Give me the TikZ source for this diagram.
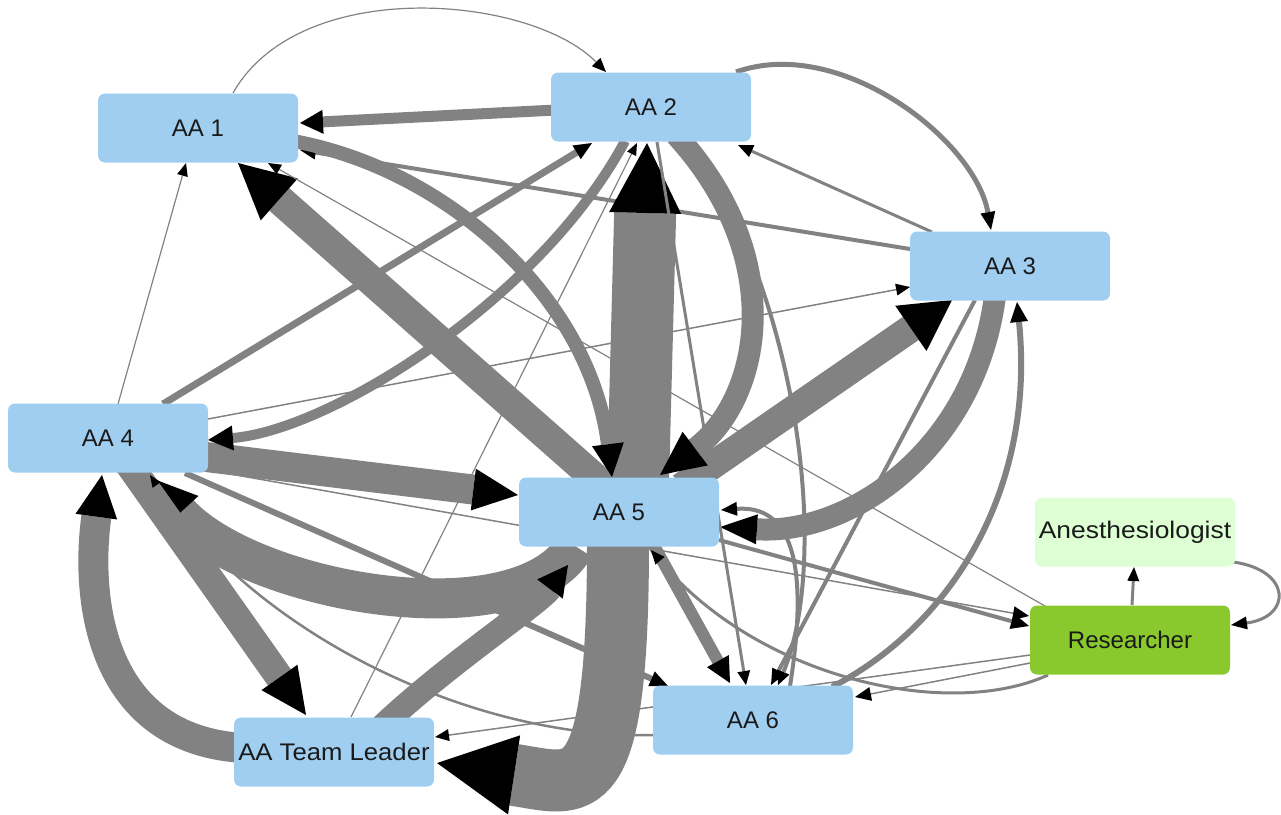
\documentclass[tikz,border=0pt]{standalone}
\usepackage{fontspec}
\setmainfont{Liberation Sans}
\usetikzlibrary{arrows.meta,calc}
\definecolor{boxblue}{HTML}{A0CEF1}
\definecolor{anest}{HTML}{DDFFD3}
\definecolor{resgreen}{HTML}{89C92D}
\definecolor{eg}{HTML}{828282}
\definecolor{txt}{HTML}{1A1A1A}
\pgfdeclarelayer{edges}
\pgfsetlayers{edges,main}
\tikzset{
  box/.style={rectangle, rounded corners=7pt, minimum width=200pt, minimum height=69pt,
    inner sep=0pt, fill=boxblue, text=txt, font=\fontsize{24}{28}\selectfont},
  ed/.style n args={3}{draw=eg, line width=#1pt,
    -{Triangle[length=#2pt, width=#3pt, line width=0pt, color=black]}},
}
\begin{document}
\begin{tikzpicture}[x=1pt, y=-1pt]
\useasboundingbox (0,0) rectangle (1281,814);
\node[box] (a1) at (198,128) {AA 1};
\node[box] (a2) at (651,107) {AA 2};
\node[box] (a3) at (1010,266) {AA 3};
\node[box] (a4) at (108,438) {AA 4};
\node[box] (a5) at (619,512) {AA 5};
\node[box] (a6) at (753,720) {AA 6};
\node[box] (tl) at (334,752) {\scalebox{1.07}[1]{AA Team Leader}};
\node[box, fill=anest] (an) at (1135,532) {\scalebox{1.1}[1]{Anesthesiologist}};
\node[box, fill=resgreen] (re) at (1130,640) {Researcher};
\begin{pgfonlayer}{edges}
% hidden-ish edges first
\draw[ed={4}{16}{14}] ($(a3)+(-100,-17)$) -- ($(a1)+(102,22)$);
% thick edges
\draw[ed={62}{70}{72}] ($(a5)+(19,-30)$) -- ($(a2)+(-4,36)$);
\draw[ed={62}{78}{80}] ($(a5)+(-1,30)$) .. controls +(0,268) and +(143,22) .. ($(tl)+(103,11)$);
\draw[ed={30}{55}{56}] ($(a5)+(-14,-25)$) -- ($(a1)+(40,35)$);
\draw[ed={40}{53}{53}] ($(a5)+(-44,34)$) .. controls +(-55,94) and +(110,119) .. ($(a4)+(35,37)$);
\draw[ed={30}{45}{42}] ($(a4)+(90,18)$) -- ($(a5)+(-101,-17)$);
\draw[ed={30}{42}{42}] ($(tl)+(-90,-4)$) .. controls +(-144,-8) and +(-17,125) .. ($(a4)+(-6,37)$);
\draw[ed={28}{46}{44}] ($(a4)+(20,25)$) -- ($(tl)+(-28,-37)$);
\draw[ed={28}{50}{55}] ($(a5)+(62,-25)$) -- ($(a3)+(-58,34)$);
\draw[ed={24}{30}{32}] ($(tl)+(42,-20)$) .. controls +(67,-65) and +(-30,40) .. ($(a5)+(-51,53)$);
\draw[ed={22}{44}{42}] ($(a2)+(25,28)$) .. controls +(114,125) and +(100,-75) .. ($(a5)+(41,-37)$);
\draw[ed={22}{37}{30}] ($(a3)+(-15,30)$) .. controls +(-20,154) and +(130,8) .. ($(a5)+(101,15)$);
\draw[ed={14}{33}{32}] ($(a1)+(95,13)$) .. controls +(157,29) and +(-22,-177) .. ($(a5)+(-7,-35)$);
\draw[ed={12}{25}{25}] ($(a5)+(33,30)$) -- ($(a6)+(-23,-37)$);
\draw[ed={11}{23}{24}] ($(a2)+(-95,3)$) -- ($(a1)+(102,-5)$);
\draw[ed={10}{25}{25}] ($(a2)+(-26,34)$) .. controls +(-85,159) and +(122,-10) .. ($(a4)+(100,2)$);
\draw[ed={7}{18}{16}] ($(a4)+(55,-34)$) -- ($(a2)+(-59,36)$);
\draw[ed={6}{20}{18}] ($(a6)+(79,-33)$) .. controls +(128,-67) and +(18,178) .. ($(a3)+(7,36)$);
\draw[ed={6}{18}{16}] ($(a4)+(77,35)$) -- ($(a6)+(-85,-34)$);
\draw[ed={5}{18}{15}] ($(a2)+(85,-35)$) .. controls +(104,-37) and +(-16,-90) .. ($(a3)+(-19,-36)$);
% thinner edges
\draw[ed={4}{16}{14}] ($(a3)+(-35,34)$) -- ($(a6)+(18,-35)$);
\draw[ed={4}{14}{13}] ($(a2)+(39,34)$) .. controls +(110,159) and +(52,-125) .. ($(a6)+(25,-35)$);
\draw[ed={4}{16}{14}] ($(a6)+(37,-34)$) .. controls +(20,-126) and +(69,-5) .. ($(a5)+(102,-2)$);
\draw[ed={4}{18}{16}] ($(a5)+(100,28)$) -- ($(re)+(-101,-14)$);
\draw[ed={3}{15}{13}] ($(a3)+(-78,-34)$) -- ($(a2)+(87,38)$);
\draw[ed={3}{14}{13}] ($(a2)+(6,35)$) -- ($(a6)+(-7,-35)$);
\draw[ed={3}{14}{12}] ($(re)+(-82,35)$) .. controls +(-98,45) and +(109,130) .. ($(a5)+(32,38)$);
\draw[ed={3}{14}{12}] ($(re)+(2,-35)$) -- ($(an)+(-1,35)$);
\draw[ed={3}{16}{13}] ($(an)+(98,30)$) .. controls +(59,8) and +(61,-8) .. ($(re)+(101,-15)$);
\draw[ed={2.5}{12}{10}] ($(a6)+(-98,15)$) .. controls +(-175,5) and +(110,165) .. ($(a4)+(42,37)$);
\draw[ed={1.5}{16}{14}] ($(a4)+(100,32)$) -- ($(re)+(-101,-24)$);
\draw[ed={1.5}{16}{14}] ($(re)+(-100,23)$) -- ($(a6)+(102,-23)$);
\draw[ed={1.5}{14}{12}] ($(re)+(-100,15)$) -- ($(tl)+(101,-15)$);
\draw[ed={1.5}{14}{12}] ($(a4)+(100,-19)$) -- ($(a3)+(-100,21)$);
\draw[ed={1.2}{13}{11}] ($(re)+(-85,-34)$) -- ($(a1)+(70,35)$);
\draw[ed={1.2}{13}{11}] ($(a4)+(10,-34)$) -- ($(a1)+(-12,35)$);
\draw[ed={1.2}{12}{10}] ($(tl)+(17,-35)$) -- ($(a2)+(-14,36)$);
\draw[ed={1.2}{14}{12}] ($(a1)+(35,-35)$) .. controls +(67,-118) and +(-76,-77) .. ($(a2)+(-45,-35)$);
\end{pgfonlayer}
\end{tikzpicture}
\end{document}
